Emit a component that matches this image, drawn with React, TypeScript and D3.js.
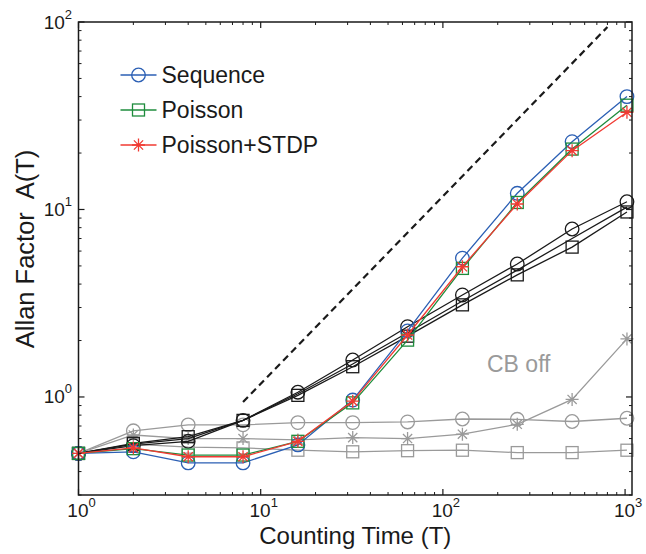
import React from "react";
import * as d3 from "d3";

const T = [1, 2, 4, 8, 16, 32, 64, 128, 256, 512, 1024];
const sequence = [0.5, 0.51, 0.445, 0.445, 0.555, 0.963, 2.25, 5.5, 12.2, 23.0, 40.0];
const poisson = [0.5, 0.53, 0.49, 0.49, 0.58, 0.93, 2.01, 4.85, 10.9, 21.0, 36.0];
const poissonStdp = [0.5, 0.535, 0.48, 0.48, 0.58, 0.95, 2.14, 4.95, 10.7, 20.6, 33.0];
const cbOnCircle = [0.5, 0.55, 0.58, 0.75, 1.06, 1.575, 2.37, 3.5, 5.12, 7.87, 11.0];
const cbOnSquare = [0.5, 0.566, 0.614, 0.75, 1.02, 1.45, 2.11, 3.1, 4.48, 6.3, 9.7];
const cbOnThird = [0.5, 0.56, 0.6, 0.75, 1.04, 1.5, 2.2, 3.25, 4.75, 7.0, 10.3];
const cbOffCircle = [0.5, 0.66, 0.71, 0.71, 0.73, 0.73, 0.736, 0.763, 0.76, 0.74, 0.77];
const cbOffStar = [0.5, 0.627, 0.6, 0.6, 0.59, 0.607, 0.6, 0.633, 0.715, 0.97, 2.04];
const cbOffSquare = [0.5, 0.56, 0.54, 0.535, 0.52, 0.51, 0.517, 0.52, 0.505, 0.505, 0.52];
const guideT = [8, 800];
const guideA = [0.94, 94];
const xMajor = [1, 10, 100, 1000];
const yMajor = [1, 10, 100];
const xExp = ["0", "1", "2", "3"];
const yExp = ["0", "1", "2"];
const legendNames = ["Sequence", "Poisson", "Poisson+STDP"];

const W = 646, H = 554;
const L = 78.5, R = 632, TOP = 22, BOT = 495;
const FONT = "'Liberation Sans', Arial, Helvetica, sans-serif";

const x = d3.scaleLog().domain([1, Math.pow(10, 3.038)]).range([L, R]);
const y = d3.scaleLog().domain([0.3, 100]).range([BOT, TOP]);

const BLUE = "#2b5fb4";
const GREEN = "#1e8c3c";
const RED = "#f03a32";
const GRAY = "#9a9a9a";
const BLACK = "#1a1a1a";

type Marker = "o" | "s" | "*" | "none";

function MarkerShape({ cx, cy, m, color, sw }: { cx: number; cy: number; m: Marker; color: string; sw: number }) {
  if (m === "o") return <circle cx={cx} cy={cy} r={6.8} fill="none" stroke={color} strokeWidth={sw} />;
  if (m === "s") return <rect x={cx - 6} y={cy - 6} width={12} height={12} fill="none" stroke={color} strokeWidth={sw} />;
  if (m === "*") {
    const r = 6.5, d = r * 0.7071;
    const p = `M${cx - r},${cy}L${cx + r},${cy}M${cx},${cy - r}L${cx},${cy + r}M${cx - d},${cy - d}L${cx + d},${cy + d}M${cx - d},${cy + d}L${cx + d},${cy - d}`;
    return <path d={p} stroke={color} strokeWidth={sw} fill="none" />;
  }
  return null;
}

function Series({ vals, color, m, sw = 1.3 }: { vals: number[]; color: string; m: Marker; sw?: number }) {
  const line = d3.line<number>().x((_, i) => x(T[i])).y((v) => y(v));
  return (
    <g>
      <path d={line(vals) || ""} fill="none" stroke={color} strokeWidth={sw} />
      {vals.map((v, i) => (
        <MarkerShape key={i} cx={x(T[i])} cy={y(v)} m={m} color={color} sw={sw} />
      ))}
    </g>
  );
}

export default function App() {
  const xMinor: number[] = [];
  for (const dec of [1, 10, 100]) for (let k = 2; k <= 9; k++) xMinor.push(dec * k);
  const yMinor: number[] = [];
  for (const dec of [0.1, 1, 10]) for (let k = 2; k <= 9; k++) { const v = dec * k; if (v >= 0.3 - 1e-9 && v <= 100) yMinor.push(v); }

  const guideLine = d3.line<number>().x((_, i) => x(guideT[i])).y((v) => y(v));
  const legendColors = [BLUE, GREEN, RED];
  const legendMarkers: Marker[] = ["o", "s", "*"];

  return (
    <svg width={W} height={H} style={{ position: "absolute", left: 0, top: 0, background: "#fff" }} fontFamily={FONT}>
      <rect x={0} y={0} width={W} height={H} fill="#fff" />
      {/* gray CB off */}
      <Series vals={cbOffSquare} color={GRAY} m="s" />
      <Series vals={cbOffStar} color={GRAY} m="*" />
      <Series vals={cbOffCircle} color={GRAY} m="o" />
      {/* black CB on */}
      <Series vals={cbOnThird} color={BLACK} m="none" />
      <Series vals={cbOnSquare} color={BLACK} m="s" />
      <Series vals={cbOnCircle} color={BLACK} m="o" />
      {/* colored */}
      <Series vals={sequence} color={BLUE} m="o" />
      <Series vals={poisson} color={GREEN} m="s" />
      <Series vals={poissonStdp} color={RED} m="*" />
      {/* guide */}
      <path d={guideLine(guideA) || ""} fill="none" stroke={BLACK} strokeWidth={2.2} strokeDasharray="7,4.5" />

      <text x={487} y={372} fontSize={23} fill={GRAY}>CB off</text>

      {/* axes box */}
      <rect x={L} y={TOP} width={R - L} height={BOT - TOP} fill="none" stroke={BLACK} strokeWidth={1.5} />
      {xMajor.map((t) => (
        <g key={"xM" + t}>
          <line x1={x(t)} x2={x(t)} y1={BOT} y2={BOT - 6} stroke={BLACK} strokeWidth={1.2} />
          <line x1={x(t)} x2={x(t)} y1={TOP} y2={TOP + 6} stroke={BLACK} strokeWidth={1.2} />
        </g>
      ))}
      {xMinor.map((t) => (
        <g key={"xm" + t}>
          <line x1={x(t)} x2={x(t)} y1={BOT} y2={BOT - 3} stroke={BLACK} strokeWidth={1} />
          <line x1={x(t)} x2={x(t)} y1={TOP} y2={TOP + 3} stroke={BLACK} strokeWidth={1} />
        </g>
      ))}
      {yMajor.map((v) => (
        <g key={"yM" + v}>
          <line x1={L} x2={L + 6} y1={y(v)} y2={y(v)} stroke={BLACK} strokeWidth={1.2} />
          <line x1={R} x2={R - 6} y1={y(v)} y2={y(v)} stroke={BLACK} strokeWidth={1.2} />
        </g>
      ))}
      {yMinor.map((v) => (
        <g key={"ym" + v}>
          <line x1={L} x2={L + 3} y1={y(v)} y2={y(v)} stroke={BLACK} strokeWidth={1} />
          <line x1={R} x2={R - 3} y1={y(v)} y2={y(v)} stroke={BLACK} strokeWidth={1} />
        </g>
      ))}
      {/* tick labels */}
      {xMajor.map((t, i) => (
        <text key={"xl" + t} x={x(t) + 3} y={517} fontSize={19} textAnchor="middle" fill={BLACK}>
          10<tspan fontSize={13} dy={-10}>{xExp[i]}</tspan>
        </text>
      ))}
      {yMajor.map((v, i) => (
        <text key={"yl" + v} x={72} y={y(v) + 6.5} fontSize={19} textAnchor="end" fill={BLACK}>
          10<tspan fontSize={13} dy={-10}>{yExp[i]}</tspan>
        </text>
      ))}
      {/* axis labels */}
      <text x={(L + R) / 2} y={544} fontSize={24} textAnchor="middle" fill={BLACK}>Counting Time (T)</text>
      <text transform={`translate(34,${249}) rotate(-90)`} fontSize={25.5} textAnchor="middle" fill={BLACK} style={{ whiteSpace: "pre" }}>
        {"Allan Factor  A(T)"}
      </text>

      {/* legend */}
      {legendNames.map((n, i) => {
        const ly = 75 + i * 35;
        return (
          <g key={n}>
            <line x1={120.5} x2={156.5} y1={ly} y2={ly} stroke={legendColors[i]} strokeWidth={1.3} />
            <MarkerShape cx={138.5} cy={ly} m={legendMarkers[i]} color={legendColors[i]} sw={1.3} />
            <text x={161.5} y={ly + 8} fontSize={23} fill={BLACK}>{n}</text>
          </g>
        );
      })}
    </svg>
  );
}
